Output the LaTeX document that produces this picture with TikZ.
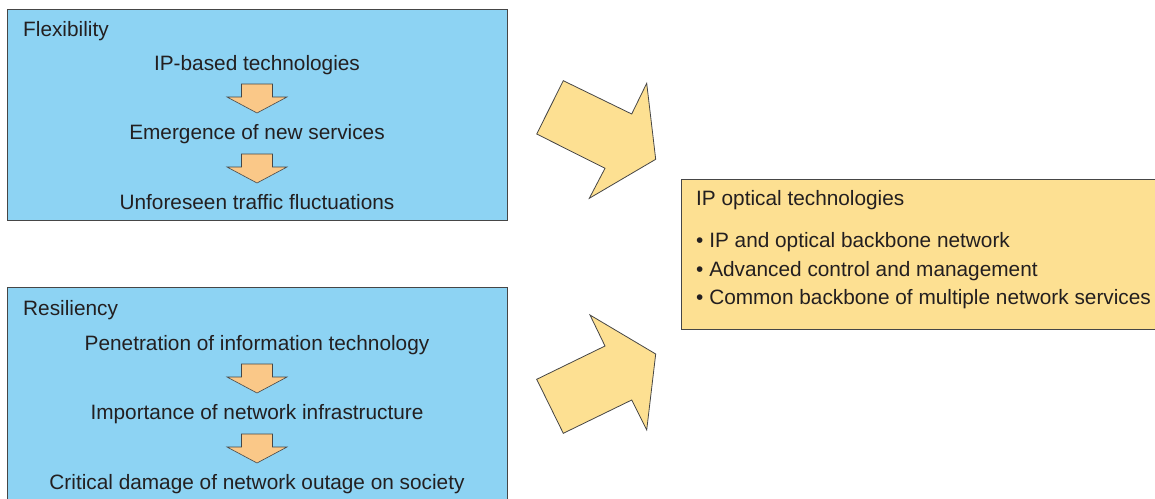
\documentclass[tikz,border=0pt]{standalone}
\usepackage{fontspec}
\setmainfont{Liberation Sans}
\definecolor{boxblue}{RGB}{141,211,243}
\definecolor{boxyellow}{RGB}{253,224,146}
\definecolor{arrorange}{RGB}{250,200,136}
\definecolor{txt}{RGB}{35,31,32}
\definecolor{edge}{RGB}{70,70,70}
\newcommand{\smalldown}[2]{%
  \draw[smallarr] (#1-15.5,#2) -- (#1+15.5,#2) -- (#1+15.5,#2+13) -- (#1+30,#2+13)
    -- (#1,#2+29) -- (#1-30,#2+13) -- (#1-15.5,#2+13) -- cycle;}
\tikzset{
  panel/.style={draw=edge, line width=0.9pt},
  smallarr/.style={fill=arrorange, draw=edge, line width=0.6pt, line join=miter},
  bigarr/.style={fill=boxyellow, draw=edge, line width=0.8pt, line join=miter},
  lbl/.style={inner sep=0pt, anchor=base, text=txt, font=\fontsize{20.8}{24}\selectfont},
  lblw/.style={lbl, anchor=base west}
}
\begin{document}
\begin{tikzpicture}[x=1pt,y=-1pt]
\useasboundingbox (0,0) rectangle (1155,498);
\clip (0,0) rectangle (1155,498);
% panels
\draw[panel, fill=boxblue] (7.5,9) rectangle (507,220);
\draw[panel, fill=boxblue] (7.5,287) rectangle (507,520);
\draw[panel, fill=boxyellow] (681,179) rectangle (1180,329);
% top panel text
\node[lblw] (flex) at (23,36) {Flexibility};
\node[lbl] (ip) at (257,70) {IP-based technologies};
\node[lbl] (em) at (257,139.5) {Emergence of new services};
\node[lbl] (un) at (257,209.5) {Unforeseen traffic fluctuations};
\smalldown{257}{84}
\smalldown{257}{154}
% bottom panel text
\node[lblw] (res) at (23,315) {Resiliency};
\node[lbl] (pen) at (257,350) {Penetration of information technology};
\node[lbl] (imp) at (257,419.3) {Importance of network infrastructure};
\node[lbl] (crit) at (257,489.8) {Critical damage of network outage on society};
\smalldown{257}{364}
\smalldown{257}{434}
% right panel text
\node[lblw] (ipo) at (696,205) {IP optical technologies};
\node[lblw] (b1) at (696,247) {\textbullet\ IP and optical backbone network};
\node[lblw] (b2) at (696,276) {\textbullet\ Advanced control and management};
\node[lblw] (b3) at (696,304) {\textbullet\ Common backbone of multiple network services};
% big arrows
\draw[bigarr] (563.3,80.7) -- (631.7,114) -- (646.7,83.3) -- (655.7,159.3)
  -- (589.3,198.3) -- (605,168.3) -- (536.7,134) -- cycle;
\draw[bigarr] (536.7,379.3) -- (605,346) -- (590,315) -- (655.7,354)
  -- (646.7,430) -- (631.7,400) -- (563.3,433.3) -- cycle;
\end{tikzpicture}
\end{document}
